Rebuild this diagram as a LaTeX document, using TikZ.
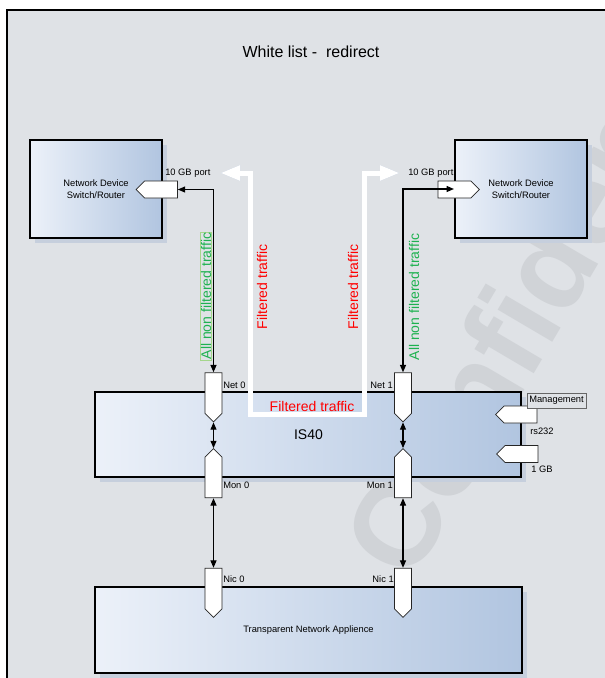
\documentclass[tikz,border=0pt]{standalone}
\usepackage{fontspec}
\setmainfont{Liberation Sans}
\usetikzlibrary{arrows.meta,shapes.symbols,shadows}
\definecolor{bgc}{RGB}{223,226,230}
\definecolor{boxlight}{RGB}{236,241,249}
\definecolor{boxdark}{RGB}{177,197,224}
\definecolor{shadowc}{RGB}{198,207,221}
\definecolor{ushadow}{RGB}{188,201,223}
\definecolor{wmc}{RGB}{208,211,215}
\definecolor{greentxt}{RGB}{30,178,80}
\definecolor{greenbox}{RGB}{165,214,140}
\definecolor{redtxt}{RGB}{255,0,0}
\begin{document}
\begin{tikzpicture}[x=0.75pt,y=-0.75pt,
  devbox/.style={draw=black, line width=1.6pt, left color=boxlight, right color=boxdark,
    general shadow={fill=shadowc, shadow xshift=3.5pt, shadow yshift=-3.5pt},
    inner sep=0pt, align=center, font=\fontsize{7}{9}\selectfont},
  portv/.style={signal, signal from=nowhere, draw=black!85, fill=white, line width=0.6pt,
    minimum width=12.75pt, minimum height=30.5pt, inner sep=0pt},
  porth/.style={signal, signal from=nowhere, draw=black!85, fill=white, line width=0.6pt,
    minimum width=31pt, minimum height=12.75pt, inner sep=0pt},
  conn/.style={line width=0.8pt, {Triangle[length=5.5pt,width=4.5pt]}-{Triangle[length=5.5pt,width=4.5pt]}},
  filt/.style={line width=3.75pt, line join=miter, {Triangle[length=15pt,width=10.5pt]}-{Triangle[length=15pt,width=10.5pt]}},
  lbl/.style={font=\fontsize{7}{8}\selectfont, inner sep=0pt},
  biglbl/.style={font=\fontsize{10.5}{12}\selectfont, inner sep=0.5pt}
]
\useasboundingbox (0,0) rectangle (605,678);
\clip (0,0) rectangle (605,678);
\fill[white] (0,0) rectangle (605,678);
\draw[line width=1.5pt, fill=bgc] (6.5,9.5) rectangle (640,700);

% watermark
\node[rotate=59.5, anchor=base west, text=wmc, inner sep=0pt,
  font=\fontsize{90}{90}\selectfont\bfseries] (wm) at (410,585) {Confidential};

% title
\node[font=\fontsize{12}{14}\selectfont] (title) at (311,52) {White list -\ \ redirect};

% boxes
\node[devbox, minimum width=99pt, minimum height=73.5pt] (lnd) at (96,189) {Network Device\\Switch/Router};
\node[devbox, minimum width=99pt, minimum height=73.5pt] (rnd) at (521,189) {Network Device\\Switch/Router};
\node[devbox, minimum width=319.5pt, minimum height=63.75pt] (is40) at (308,434.5) {};
\node[devbox, minimum width=320.25pt, minimum height=64.5pt] (tna) at (308.5,630) {Transparent Network Applience};
\node[font=\fontsize{10.5}{12}\selectfont, inner sep=0pt] (is40t) at (308.5,435) {IS40};

% filtered traffic path (white, with shadow)
\coordinate (fL) at (220,173);
\coordinate (fLc) at (250.5,173);
\coordinate (fLb) at (250.5,414);
\coordinate (fRb) at (364,414);
\coordinate (fRc) at (364,173);
\coordinate (fR) at (400,173);
\draw[filt, draw=ushadow, xshift=4.5pt, yshift=-4.5pt] (fL) -- (fLc) -- (fLb) -- (fRb) -- (fRc) -- (fR);
\draw[filt, draw=white] (fL) -- (fLc) -- (fLb) -- (fRb) -- (fRc) -- (fR);

% ports
\node[porth, signal to=west] (lport) at (161,189.5) {};
\node[porth, signal to=east] (rport) at (454.5,189.5) {};
\node[portv, signal to=south] (net0) at (213.5,393) {};
\node[portv, signal to=north] (mon0) at (213.5,477.5) {};
\node[portv, signal to=south] (nic0) at (213.5,588.5) {};
\node[portv, signal to=south] (net1) at (403,393) {};
\node[portv, signal to=north] (mon1) at (403,477.5) {};
\node[portv, signal to=south] (nic1) at (403,588.5) {};
\node[porth, signal to=west] (mg1) at (520.5,414.5) {};
\node[porth, signal to=west] (mg2) at (521.5,454) {};

% connectors
\draw[conn] (net0.north) |- (lport.east);
\draw[conn] (net1.north) |- (rnd.west);
\draw[conn] (net0.south) -- (mon0.north);
\draw[conn] (mon0.south) -- (nic0.north);
\draw[conn] (net1.south) -- (mon1.north);
\draw[conn] (mon1.south) -- (nic1.north);

% labels
\node[lbl, anchor=west] (l10a) at (165,173) {10 GB port};
\node[lbl, anchor=west] (l10b) at (408,173) {10 GB port};
\node[lbl, anchor=west] (lnet0) at (223,385) {Net 0};
\node[lbl, anchor=west] (lmon0) at (223,485) {Mon 0};
\node[lbl, anchor=west] (lnic0) at (223,579) {Nic 0};
\node[lbl, anchor=east] (lnet1) at (393,385) {Net 1};
\node[lbl, anchor=east] (lmon1) at (393,485) {Mon 1};
\node[lbl, anchor=east] (lnic1) at (394,579) {Nic 1};
\node[lbl, draw=black!60, line width=0.6pt, fill=bgc, minimum width=44.25pt, minimum height=11.25pt] (lmgmt) at (556.5,400.5) {Management};
\node[lbl, anchor=west] (lrs) at (530,431) {rs232};
\node[lbl, anchor=west] (l1gb) at (531,469) {1 GB};

\node[biglbl, rotate=90, text=greentxt, draw=greenbox, line width=0.5pt] (gl) at (206,296) {All non filtered traffic};
\node[biglbl, rotate=90, text=greentxt] (gr) at (414,297) {All non filtered traffic};
\node[biglbl, rotate=90, text=redtxt] (rl) at (262,287) {Filtered traffic};
\node[biglbl, rotate=90, text=redtxt] (rr) at (353,287) {Filtered traffic};
\node[biglbl, text=redtxt] (rh) at (312,406) {Filtered traffic};
\end{tikzpicture}
\end{document}
